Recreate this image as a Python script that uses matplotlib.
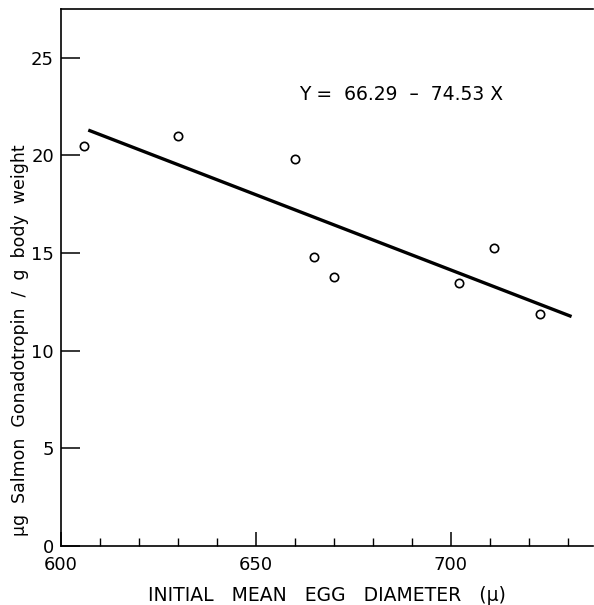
import matplotlib
matplotlib.use('Agg')
import matplotlib.pyplot as plt
from matplotlib.ticker import MultipleLocator

plt.rcParams['font.family'] = ['DejaVu Sans']

# egg diameter (microns) vs gonadotropin dose (ug / g body weight)
egg_diam = [606, 630, 660, 665, 670, 702, 711, 723]
dose = [20.5, 21.0, 19.8, 14.8, 13.8, 13.45, 15.25, 11.9]

# regression line end points
fit_x = [607, 731]
fit_y = [21.3, 11.75]

x_ticks = [600, 650, 700]
y_ticks = [0, 5, 10, 15, 20, 25]

fig = plt.figure(figsize=(5.94, 6.05), dpi=100)
ax = fig.add_axes([61 / 594, 59 / 605, 532 / 594, 537 / 605])

ax.plot(fit_x, fit_y, color='black', lw=2.4, solid_capstyle='butt')
ax.plot(egg_diam, dose, 'o', mfc='white', mec='black', ms=6, mew=1.2)

ax.set_xlim(600, 736.5)
ax.set_ylim(0, 27.5)
ax.set_xticks(x_ticks)
ax.set_yticks(y_ticks)
ax.xaxis.set_minor_locator(MultipleLocator(10))

ax.spines['right'].set_visible(False)
for s in ['left', 'bottom', 'top']:
    ax.spines[s].set_linewidth(1.2)

ax.tick_params(axis='x', which='major', direction='in', length=10, width=1.1,
               labelsize=13, pad=7)
ax.tick_params(axis='x', which='minor', direction='in', length=6, width=1.0)
ax.tick_params(axis='y', direction='in', length=14, width=1.1, labelsize=13, pad=5)

ax.text(661, 22.85, 'Y =  66.29  \u2013  74.53 X', fontsize=13.5, va='baseline')

ax.set_xlabel('INITIAL   MEAN   EGG   DIAMETER   (\u03bc)', fontsize=13.5, labelpad=9)
fig.text(20 / 594, 1 - 340 / 605, '\u03bcg  Salmon  Gonadotropin  /  g  body  weight',
         rotation=90, ha='center', va='center', fontsize=12.5)

fig.savefig('out.png', dpi=100)
